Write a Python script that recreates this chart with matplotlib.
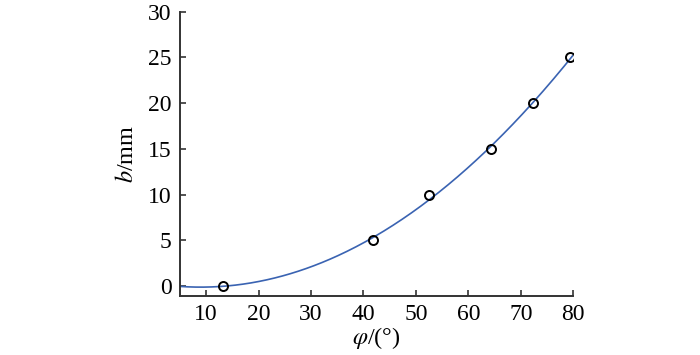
import numpy as np
import matplotlib
matplotlib.use("Agg")
import matplotlib.pyplot as plt

phi = [13.3, 41.8, 52.4, 64.4, 72.4, 79.4]
b_mm = [0.0, 5.0, 10.0, 15.0, 20.0, 25.0]

x_ticks = [10, 20, 30, 40, 50, 60, 70, 80]
y_ticks = [0, 5, 10, 15, 20, 25, 30]

plt.rcParams['font.family'] = ['Liberation Serif', 'DejaVu Serif']
plt.rcParams['mathtext.fontset'] = 'stix'

fig = plt.figure(figsize=(7, 3.55), dpi=100)
ax = fig.add_axes([0.257, 0.167, 0.562, 0.800])

# quadratic fit through the measured points
coef = np.polyfit(phi, b_mm, 2)
xs = np.linspace(5, 80, 300)
ax.plot(xs, np.polyval(coef, xs), color='#3a63b2', lw=1.2, zorder=2)

ax.plot(phi, b_mm, 'o', ms=6.5, mfc='none', mec='black', mew=1.4, zorder=3)

ax.set_xlim(5, 80)
ax.set_ylim(-1.05, 30)
ax.set_xticks(x_ticks)
ax.set_yticks(y_ticks)

for s in ['top', 'right']:
    ax.spines[s].set_visible(False)
for s in ['left', 'bottom']:
    ax.spines[s].set_linewidth(1.4)
    ax.spines[s].set_color('#333333')

ax.tick_params(direction='in', length=4.5, width=1.2, color='#333333',
               labelsize=17, pad=6)

ax.set_xlabel(r'$\mathit{\varphi}$/(°)', fontsize=17.5, labelpad=0)
ax.set_ylabel(r'$\mathit{b}$/mm', fontsize=17.5, labelpad=7)

fig.savefig('out.png', dpi=100)
